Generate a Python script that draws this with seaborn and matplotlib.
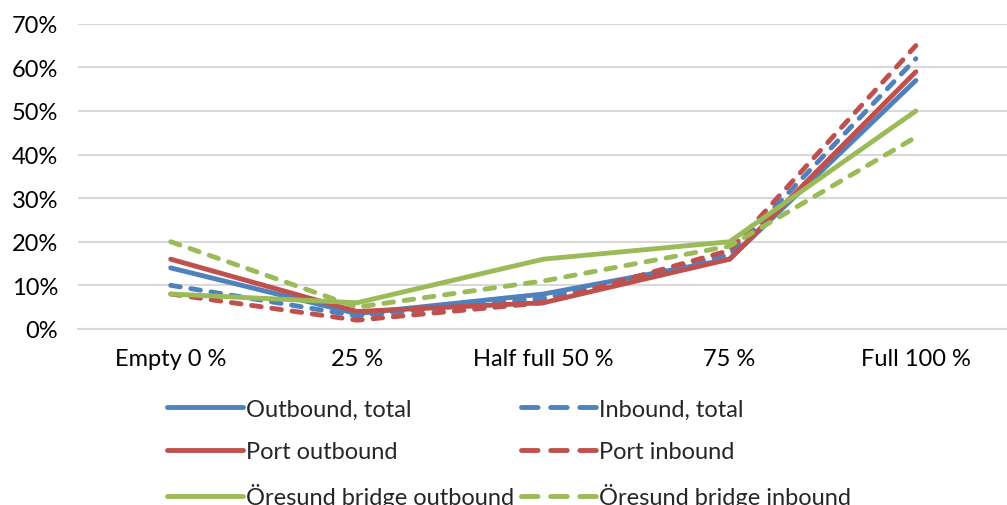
import matplotlib
matplotlib.use("Agg")
import matplotlib.pyplot as plt
import seaborn as sns
import pandas as pd
from matplotlib.lines import Line2D
from matplotlib.ticker import PercentFormatter

categories = ["Empty 0 %", "25 %", "Half full 50 %", "75 %", "Full 100 %"]
outbound_total = [14, 3.5, 8, 16, 57]
inbound_total = [10, 3, 7, 17, 62]
port_outbound = [16, 4, 6, 16, 59]
port_inbound = [8, 2, 6, 18, 65]
oresund_outbound = [8, 6, 16, 20, 50]
oresund_inbound = [20, 5, 11, 19, 44]

series = [
    ("Outbound, total", outbound_total, "#4F81BD", "solid"),
    ("Inbound, total", inbound_total, "#4F81BD", "dashed"),
    ("Port outbound", port_outbound, "#C0504D", "solid"),
    ("Port inbound", port_inbound, "#C0504D", "dashed"),
    ("Öresund bridge outbound", oresund_outbound, "#9BBB59", "solid"),
    ("Öresund bridge inbound", oresund_inbound, "#9BBB59", "dashed"),
]

sns.set_style("white")
plt.rcParams['font.family'] = ['Lato', 'DejaVu Sans']

fig = plt.figure(figsize=(10.07, 5.06), dpi=100)
ax = fig.add_axes([0.077, 0.348, 0.925, 0.603])

lw = 3.5
handles = {}
for name, vals, color, style in series:
    df = pd.DataFrame({"cat": categories, "val": vals})
    sns.lineplot(data=df, x="cat", y="val", ax=ax, color=color, linewidth=lw,
                 sort=False, legend=False)
    line = ax.get_lines()[-1]
    if style == "dashed":
        line.set_dashes((2.0, 2.2))
        line.set_dash_capstyle("round")
    line.set_solid_capstyle("round")
    line.set_solid_joinstyle("round")
    h = Line2D([], [], color=color, linewidth=lw, solid_capstyle="round")
    if style == "dashed":
        h.set_dashes((3.4, 2.6))
        h.set_dash_capstyle("round")
    handles[name] = h

ax.set_xlim(-0.5, 4.5)
ax.set_ylim(0, 70)
ax.set_yticks(range(0, 71, 10))
ax.yaxis.set_major_formatter(PercentFormatter(decimals=0))
ax.grid(axis="y", color="#D9D9D9", linewidth=1.5)
ax.set_axisbelow(True)
for s in ["top", "right", "left"]:
    ax.spines[s].set_visible(False)
ax.spines["bottom"].set_color("#D9D9D9")
ax.spines["bottom"].set_linewidth(1.5)
ax.set_xlabel("")
ax.set_ylabel("")
ax.tick_params(axis="both", length=0, labelsize=17, colors="#000000")
ax.tick_params(axis="x", pad=14)
ax.tick_params(axis="y", pad=14)

order = ["Outbound, total", "Port outbound", "Öresund bridge outbound",
         "Inbound, total", "Port inbound", "Öresund bridge inbound"]
leg = fig.legend([handles[n] for n in order], order, ncol=2,
                 loc="upper left", bbox_to_anchor=(0.145, 0.252),
                 frameon=False, handlelength=3.2, handletextpad=0.12,
                 columnspacing=0.3, labelspacing=0.9,
                 prop={"family": ["Lato", "DejaVu Sans"], "size": 17})

fig.savefig("out.png", dpi=100)
